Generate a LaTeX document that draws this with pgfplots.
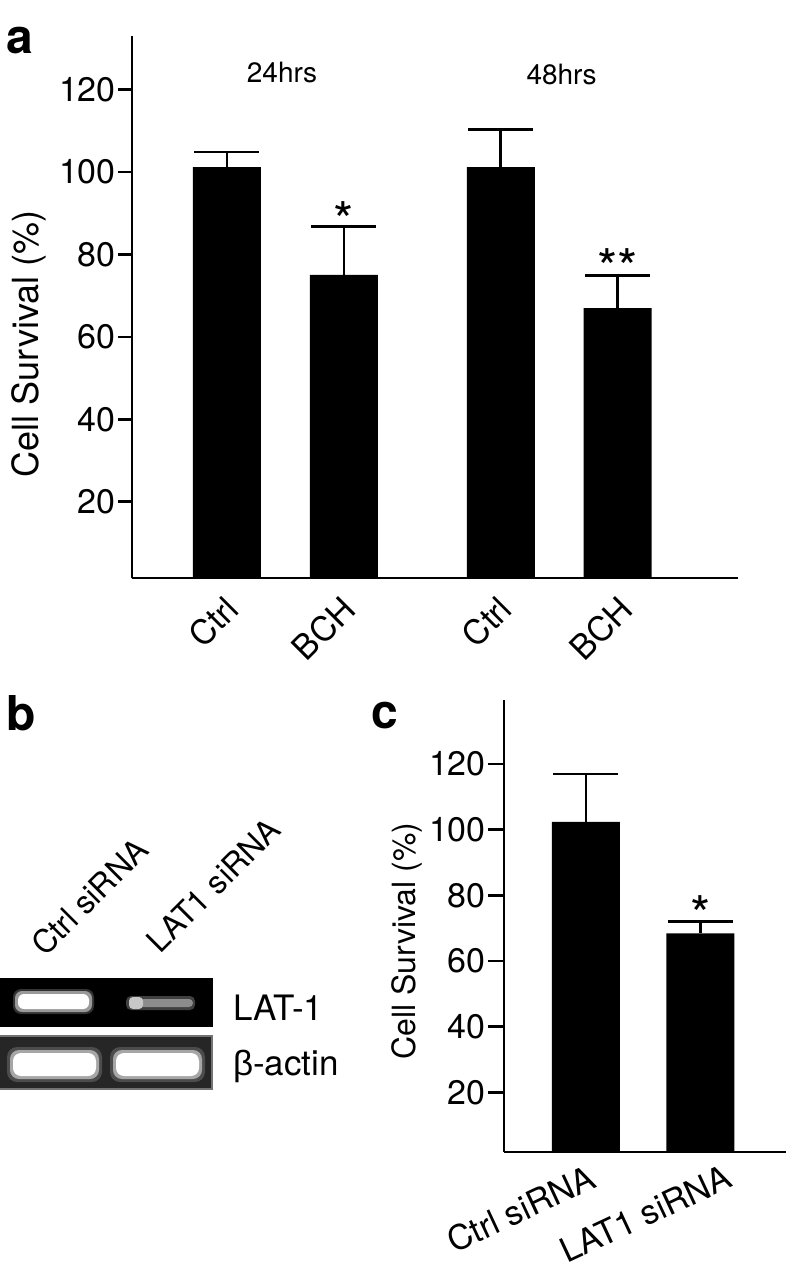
\documentclass[border=0pt]{standalone}
\usepackage{pgfplots}
\pgfplotsset{compat=1.18}
\usepackage{fontspec}
\setmainfont{TeX Gyre Heros}
\newfontfamily\libsans{Liberation Sans}
\newcommand\fs[1]{\fontsize{#1pt}{#1pt}\selectfont}

\pgfplotsset{
  panel/.style={
    scale only axis, anchor=south west,
    axis x line=bottom, axis y line=left,
    axis line style={line width=2.6pt, -, black},
    ytick={20,40,60,80,100,120},
    tick align=outside,
    ytick style={line width=2.6pt, black},
    xtick style={draw=none},
    /pgf/number format/assume math mode=true,
    yticklabel style={font=\fs{34}, inner sep=2pt},
    clip=false,
  },
  barstyle/.style={
    ybar, bar shift=0pt, bar width=68pt, fill=black, draw=none,
    error bars/.cd, y dir=plus, y explicit,
    error bar style={line width=2.6pt, black},
    error mark options={rotate=90, mark size=32.5pt, line width=2.6pt, black},
  },
}

\begin{document}
\begin{tikzpicture}
\useasboundingbox (0pt,0pt) rectangle (786pt,-1274pt);

% ---------- panel a ----------
\begin{axis}[panel,
  at={(132pt,-578pt)}, width=606pt, height=542pt,
  xmin=-0.812, xmax=4.368, ymin=1.5, ymax=133.05,
  major tick length=14pt,
  xtick={-0.05,0.95,2.29,3.32},
  xticklabels={Ctrl,BCH,Ctrl,BCH},
  xticklabel style={font=\fs{34}, rotate=45, anchor=north east, inner sep=0pt, yshift=-2pt},
  ylabel={Cell Survival (\%)},
  ylabel style={font=\fs{36}, at={(axis description cs:-0.170,0.432)}, anchor=center},
]
\addplot[barstyle] coordinates {
  (0,101.2) +- (0,3.7)
  (1,75.1) +- (0,11.7)
  (2.34,101.2) +- (0,9.2)
  (3.34,67.0) +- (0,7.9)
};
\node[font=\fs{52}, inner sep=0pt] at (axis cs:1,88.3) {*};
\node[font=\fs{52}, inner sep=0pt] at (axis cs:3.34,76.8) {**};
\node[font=\fs{28}] at (axis cs:0.47,124.1) {24hrs};
\node[font=\fs{28}] at (axis cs:2.86,123.6) {48hrs};
\end{axis}

% ---------- panel c ----------
\begin{axis}[panel,
  at={(504pt,-1152pt)}, width=282pt, height=452pt,
  xmin=-0.716, xmax=1.747, ymin=1.8, ymax=139.5,
  major tick length=16pt,
  xtick={0.03,1.22},
  xticklabels={Ctrl siRNA,LAT1 siRNA},
  xticklabel style={font=\fs{34}, rotate=25, anchor=north east, inner sep=0pt, yshift=5pt},
  ylabel={Cell Survival (\%)},
  ylabel style={font=\fs{32}, at={(axis description cs:-0.344,0.467)}, anchor=center},
]
\addplot[barstyle] coordinates {
  (0,102.4) +- (0,14.6)
  (1,68.4) +- (0,3.7)
};
\node[font=\fs{52}, inner sep=0pt] at (axis cs:1,74.0) {*};
\end{axis}

% ---------- panel b (gel) ----------
\fill[black] (0pt,-978pt) rectangle (213pt,-1027pt);
\fill[black!80, rounded corners=8pt] (13pt,-989pt) rectangle (94pt,-1014pt);
\fill[black!40, rounded corners=7pt] (15pt,-991pt) rectangle (92pt,-1012pt);
\fill[white, rounded corners=6pt] (18pt,-994pt) rectangle (89pt,-1009pt);
\fill[black!75, rounded corners=5pt] (126pt,-996pt) rectangle (195pt,-1010pt);
\fill[black!45, rounded corners=4pt] (129pt,-999pt) rectangle (193pt,-1007pt);
\fill[black!22, rounded corners=4pt] (129pt,-997pt) rectangle (143pt,-1009pt);

\fill[black!85] (0pt,-1035pt) rectangle (213pt,-1090pt);
\draw[black!55, line width=1.5pt] (0pt,-1036pt) -- (212pt,-1036pt) -- (212pt,-1089pt) -- (0pt,-1089pt);
\fill[black!70, rounded corners=10pt] (7pt,-1047pt) rectangle (102pt,-1082pt);
\fill[black!35, rounded corners=9pt] (10pt,-1050pt) rectangle (99pt,-1079pt);
\fill[white, rounded corners=8pt] (13pt,-1053pt) rectangle (96pt,-1076pt);
\fill[black!70, rounded corners=10pt] (110pt,-1047pt) rectangle (205pt,-1082pt);
\fill[black!35, rounded corners=9pt] (113pt,-1050pt) rectangle (202pt,-1079pt);
\fill[white, rounded corners=8pt] (116pt,-1053pt) rectangle (199pt,-1076pt);

\node[anchor=base west, font=\fs{35}, inner sep=0pt] at (233pt,-1020pt) {LAT-1};
\node[anchor=base west, font=\fs{35}, inner sep=0pt] at (233pt,-1075pt) {{\libsans β}-actin};
\node[anchor=base west, font=\fs{32}, inner sep=0pt, rotate=45] at (45pt,-958pt) {Ctrl siRNA};
\node[anchor=base west, font=\fs{32}, inner sep=0pt, rotate=45] at (160pt,-955pt) {LAT1 siRNA};

% ---------- panel letters ----------
\node[anchor=base west, font=\fs{48}\bfseries, inner sep=0pt] at (6pt,-53pt) {a};
\node[anchor=base west, font=\fs{48}\bfseries, inner sep=0pt] at (6pt,-730pt) {b};
\node[anchor=base west, font=\fs{48}\bfseries, inner sep=0pt] at (371pt,-728pt) {c};
\end{tikzpicture}
\end{document}
